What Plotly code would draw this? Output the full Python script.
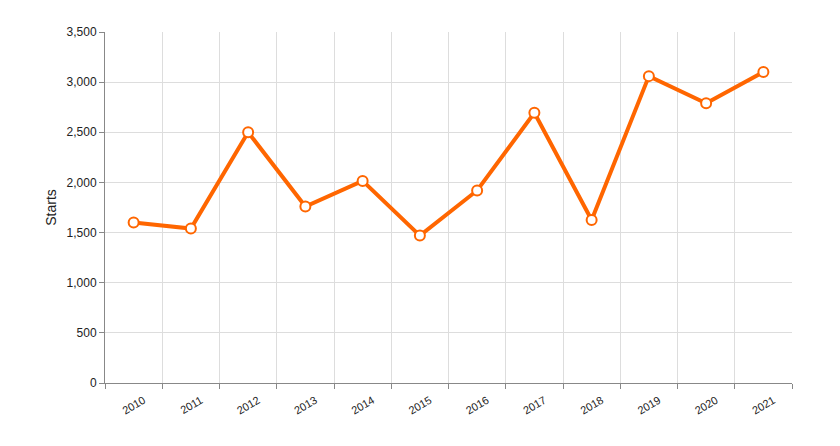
import plotly.graph_objects as go

years = ["2010", "2011", "2012", "2013", "2014", "2015", "2016", "2017", "2018", "2019", "2020", "2021"]
starts = [1600, 1540, 2500, 1760, 2015, 1470, 1920, 2695, 1625, 3060, 2790, 3100]
y_ticks = [0, 500, 1000, 1500, 2000, 2500, 3000, 3500]

fig = go.Figure()
fig.add_trace(go.Scatter(
    x=years, y=starts, mode="lines+markers",
    line=dict(color="#FF6600", width=4),
    marker=dict(size=10, color="white", line=dict(color="#FF6600", width=2)),
    hoverinfo="skip", cliponaxis=False,
))

# page body has an 8px margin, so plot-area margins are compensated
fig.update_layout(
    width=840, height=446,
    margin=dict(l=97, r=56, t=24, b=71),
    paper_bgcolor="white", plot_bgcolor="white",
    font=dict(family="Liberation Sans, Arial, sans-serif", color="#222"),
    showlegend=False,
)
fig.update_xaxes(
    type="category", tickson="boundaries",
    range=[-0.5, len(years) - 0.5], automargin=False,
    showgrid=True, gridcolor="#dddddd", gridwidth=1,
    showline=True, linecolor="#888888", linewidth=1,
    ticks="outside", ticklen=5, tickcolor="#888888",
    tickangle=-30, tickfont=dict(size=11, color="#222"),
    ticklabelshift=10, ticklabelstandoff=6,
    mirror=False, zeroline=False,
)
fig.update_yaxes(
    range=[0, 3500], tickvals=y_ticks, automargin=False,
    tickformat=",d",
    showgrid=True, gridcolor="#dddddd", gridwidth=1,
    showline=True, linecolor="#888888", linewidth=1,
    ticks="outside", ticklen=5, tickcolor="#888888",
    tickfont=dict(size=12, color="#222"),
    title=dict(text="Starts", font=dict(size=14, color="#222"), standoff=6),
    zeroline=False,
)
fig.write_html("out.html")
